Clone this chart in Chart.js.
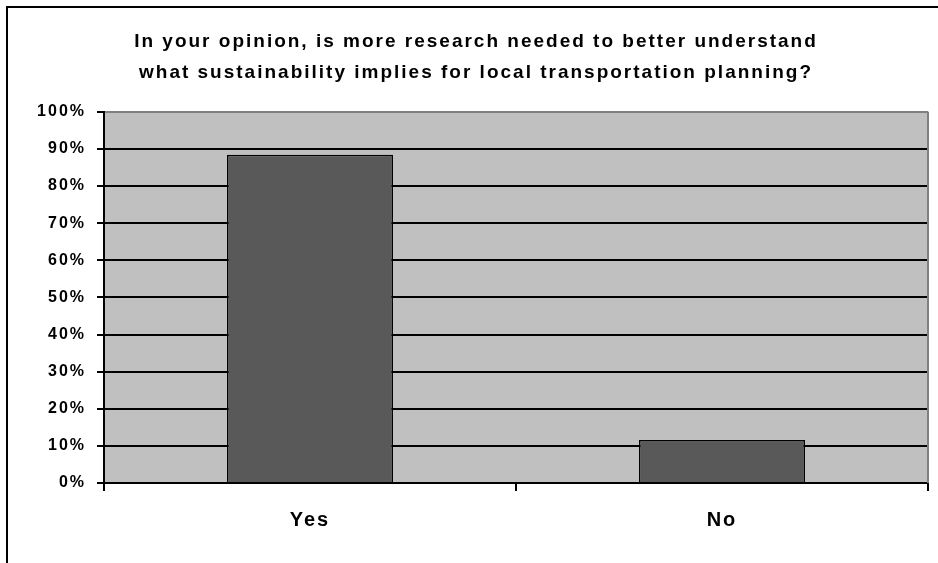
<!DOCTYPE html>
<html>
<head>
<meta charset="utf-8">
<script src="https://cdn.jsdelivr.net/npm/chart.js@4"></script>
<style>
  html, body { margin: 0; padding: 0; background: #fff; }
  #wrap { width: 938px; height: 563px; }
</style>
</head>
<body>
<div id="wrap"><canvas id="chart" width="938" height="563"></canvas></div>
<script>
// Survey answers (share of respondents, %)
const categories = ['Yes', 'No'];
const shares = [88.4, 11.6];
const titleLines = [
  'In your opinion, is more research needed to better understand',
  'what sustainability implies for local transportation planning?'
];

const FONT = 'Arial, "Liberation Sans", sans-serif';

// gray plot background, gray top/right border, outer black frame
const plotBackground = {
  id: 'plotBackground',
  beforeLayout(chart) {
    chart.ctx.letterSpacing = '2px';
  },
  beforeDraw(chart) {
    const { ctx, chartArea: a } = chart;
    // the original text is drawn a bit spread out
    ctx.letterSpacing = '2px';
    ctx.save();
    ctx.fillStyle = '#c0c0c0';
    ctx.fillRect(a.left, a.top, a.right - a.left, a.bottom - a.top);
    ctx.restore();
  },
  afterDraw(chart) {
    const { ctx, chartArea: a } = chart;
    ctx.save();
    ctx.strokeStyle = '#808080';
    ctx.lineWidth = 2;
    ctx.beginPath();
    ctx.moveTo(a.right, a.top);
    ctx.lineTo(a.right, a.bottom);
    ctx.stroke();
    // frame around the whole chart
    ctx.strokeStyle = '#000';
    ctx.lineWidth = 2;
    ctx.beginPath();
    ctx.moveTo(7, chart.height);
    ctx.lineTo(7, 7);
    ctx.lineTo(chart.width, 7);
    ctx.stroke();
    ctx.restore();
  }
};

new Chart(document.getElementById('chart'), {
  type: 'bar',
  data: {
    labels: categories,
    datasets: [{
      data: shares,
      backgroundColor: '#595959',
      borderColor: '#000',
      borderWidth: 1.5,
      barPercentage: 0.403,
      categoryPercentage: 1
    }]
  },
  options: {
    responsive: false,
    animation: false,
    layout: { padding: { left: 24, right: 10, top: 0, bottom: 0 } },
    plugins: {
      legend: { display: false },
      tooltip: { enabled: false },
      title: {
        display: true,
        text: titleLines,
        color: '#000',
        font: { family: FONT, size: 19, weight: 'bold', lineHeight: 1.6 },
        padding: { top: 27, bottom: 24 }
      }
    },
    scales: {
      x: {
        afterFit(scale) { scale.height = 80; },
        grid: {
          offset: true,
          drawOnChartArea: false,
          color: '#000',
          tickLength: 8,
          lineWidth: 2
        },
        border: { color: '#000', width: 2 },
        ticks: {
          color: '#000',
          padding: 17,
          font: { family: FONT, size: 20, weight: 'bold' }
        }
      },
      y: {
        min: 0,
        max: 100,
        afterFit(scale) { scale.width = 80; },
        grid: {
          color: ctx => ctx.tick && ctx.tick.value === 100 ? '#808080' : '#000',
          tickColor: '#000',
          tickLength: 7,
          lineWidth: 2
        },
        border: { color: '#000', width: 2 },
        ticks: {
          stepSize: 10,
          color: '#000',
          padding: 11,
          font: { family: FONT, size: 16, weight: 'bold' },
          callback: v => v + '%'
        }
      }
    }
  },
  plugins: [plotBackground]
});
</script>
</body>
</html>
